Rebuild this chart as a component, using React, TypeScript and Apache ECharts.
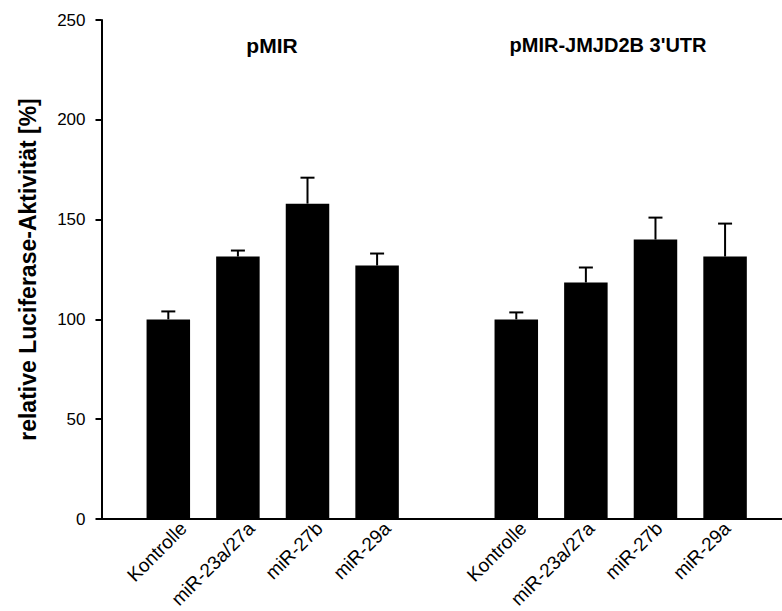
import React, { useEffect, useRef } from "react";
import * as echarts from "echarts";

const categories = ["Kontrolle", "miR-23a/27a", "miR-27b", "miR-29a"];
const groupTitles = ["pMIR", "pMIR-JMJD2B 3'UTR"];
const pmirMeans = [100, 131.5, 158, 127];
const pmirErrors = [4, 3, 13, 6];
const utrMeans = [100, 118.5, 140, 131.5];
const utrErrors = [3.5, 7.5, 11, 16.5];
const yMin = 0;
const yMax = 250;
const yStep = 50;
const yAxisTitle = "relative Luciferase-Aktivität [%]";

const FONT = '"Liberation Sans", Arial, sans-serif';

export default function App() {
  const ref = useRef<HTMLDivElement>(null);
  useEffect(() => {
    if (!ref.current) return;
    const chart = echarts.init(ref.current, null, { renderer: "svg" });

    const groups = [
      { means: pmirMeans, errors: pmirErrors },
      { means: utrMeans, errors: utrErrors },
    ];
    const barData: number[][] = [];
    const errData: number[][] = [];
    const slotLabel: Record<number, string> = {};
    groups.forEach((g, gi) => {
      categories.forEach((c, i) => {
        const slot = 1 + gi * 5 + i;
        slotLabel[slot] = c;
        barData.push([slot, g.means[i]]);
        errData.push([slot, g.means[i], g.errors[i]]);
      });
    });

    const xMin = 0.04;
    const xMax = 9.818;
    const gridTop = 20;
    const gridBottom = 92;
    const gridLeft = 101.5;
    const shift = 14;

    chart.setOption({
      animation: false,
      title: [
        {
          text: groupTitles[0],
          left: 267,
          top: 30,
          textAlign: "center",
          textStyle: { fontFamily: FONT, fontWeight: "bold", fontSize: 21, color: "#000" },
        },
        {
          text: groupTitles[1],
          left: 603,
          top: 30,
          textAlign: "center",
          textStyle: { fontFamily: FONT, fontWeight: "bold", fontSize: 20, color: "#000" },
        },
      ],
      grid: [
        { left: gridLeft, right: 0, top: gridTop, bottom: gridBottom },
        { left: gridLeft + shift, right: -shift, top: gridTop, bottom: gridBottom },
      ],
      xAxis: [
        {
          type: "value",
          gridIndex: 0,
          min: xMin,
          max: xMax,
          interval: 1,
          axisLine: { show: true, onZero: false, lineStyle: { color: "#000", width: 2 } },
          axisTick: { show: false },
          axisLabel: { show: false },
          splitLine: { show: false },
        },
        {
          type: "value",
          gridIndex: 1,
          min: xMin,
          max: xMax,
          interval: 1,
          axisLine: { show: false },
          axisTick: { show: false },
          splitLine: { show: false },
          axisLabel: {
            show: true,
            rotate: 45,
            margin: 13,
            fontFamily: FONT,
            fontSize: 19,
            color: "#000",
            showMinLabel: true,
            showMaxLabel: true,
            formatter: (v: number) => slotLabel[Math.round(v)] || "",
          },
        },
      ],
      yAxis: [
        {
          type: "value",
          gridIndex: 0,
          min: yMin,
          max: yMax,
          interval: yStep,
          name: yAxisTitle,
          nameLocation: "middle",
          nameRotate: 90,
          nameGap: 62,
          nameTextStyle: { fontFamily: FONT, fontWeight: "bold", fontSize: 23, color: "#000" },
          axisLine: { show: true, lineStyle: { color: "#000", width: 2 } },
          axisTick: { show: true, length: 6, lineStyle: { color: "#000", width: 2 } },
          axisLabel: { margin: 16, fontFamily: FONT, fontSize: 17, color: "#000" },
          splitLine: { show: false },
        },
        {
          type: "value",
          gridIndex: 1,
          min: yMin,
          max: yMax,
          interval: yStep,
          show: false,
        },
      ],
      series: [
        {
          type: "bar",
          xAxisIndex: 0,
          yAxisIndex: 0,
          data: barData,
          barWidth: 43.5,
          itemStyle: { color: "#000" },
        },
        {
          type: "custom",
          xAxisIndex: 0,
          yAxisIndex: 0,
          data: errData,
          encode: { x: 0, y: 1 },
          z: 3,
          renderItem: (params: any, api: any) => {
            const x = api.value(0);
            const y = api.value(1);
            const e = api.value(2);
            const base = api.coord([x, y]);
            const top = api.coord([x, y + e]);
            return {
              type: "group",
              children: [
                {
                  type: "line",
                  shape: { x1: base[0], y1: base[1], x2: top[0], y2: top[1] },
                  style: { stroke: "#000", lineWidth: 2 },
                },
                {
                  type: "line",
                  shape: { x1: top[0] - 7, y1: top[1], x2: top[0] + 7, y2: top[1] },
                  style: { stroke: "#000", lineWidth: 2 },
                },
              ],
            };
          },
        },
      ],
    });
    return () => chart.dispose();
  }, []);

  return <div ref={ref} style={{ width: 782, height: 611, position: "absolute", left: 0, top: 0 }} />;
}
